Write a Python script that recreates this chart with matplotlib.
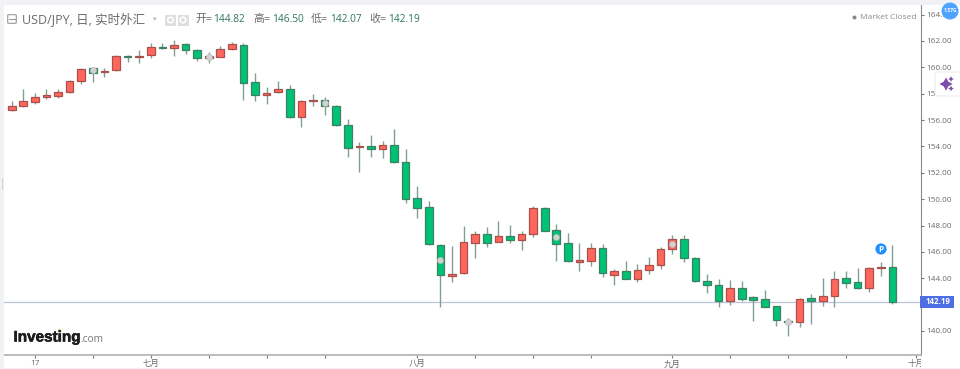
#!/usr/bin/env python3
"""USD/JPY daily candles, investing.com look."""
import matplotlib
matplotlib.use("Agg")
import matplotlib.pyplot as plt
import matplotlib.patheffects as pe
from matplotlib.patches import Circle, FancyBboxPatch, Rectangle
from matplotlib.transforms import Bbox

plt.rcParams["font.family"] = ["Open Sans", "Noto Sans CJK SC", "DejaVu Sans"]

opens = [156.79, 157.07, 157.40, 157.78, 157.85, 158.15, 158.99, 159.95, 159.62, 159.77,
         160.86, 160.79, 160.91, 161.54, 161.49, 161.80, 161.32, 160.71, 160.81, 161.37,
         161.72, 158.89, 157.93, 158.15, 158.38, 156.21, 157.42, 157.50, 157.09, 155.60,
         153.93, 154.01, 153.83, 154.08, 152.82, 150.06, 149.43, 146.55, 144.20, 144.40,
         146.70, 147.33, 146.75, 147.23, 146.88, 147.38, 149.33, 147.68, 146.67, 145.26,
         145.28, 146.32, 144.25, 144.57, 143.97, 144.60, 145.00, 146.19, 146.95, 145.54,
         143.77, 143.49, 142.25, 143.23, 142.55, 142.43, 141.87, 140.76, 140.66, 142.48,
         142.30, 142.63, 143.99, 143.69, 143.26, 144.78, 144.82]
highs = [157.42, 158.36, 158.03, 158.33, 158.33, 159.04, 159.92, 159.98, 159.92, 160.91,
         160.91, 161.32, 161.87, 161.82, 162.08, 161.82, 161.42, 161.19, 161.59, 161.90,
         161.82, 159.55, 158.48, 158.96, 158.69, 157.50, 157.95, 157.73, 157.14, 156.08,
         154.36, 154.84, 154.44, 155.30, 153.78, 151.00, 149.86, 146.60, 146.45, 147.96,
         147.56, 147.86, 148.32, 148.01, 147.61, 149.48, 149.38, 148.11, 147.41, 146.70,
         146.65, 146.57, 144.68, 145.28, 145.08, 145.61, 146.34, 147.28, 147.26, 145.59,
         144.32, 143.97, 143.84, 143.79, 142.63, 143.11, 141.92, 140.96, 142.50, 142.78,
         144.02, 144.58, 144.54, 144.75, 144.88, 145.26, 146.50]
lows = [156.66, 156.97, 157.24, 157.62, 157.67, 158.03, 158.76, 158.91, 159.24, 159.72,
        160.38, 160.35, 160.73, 161.37, 160.86, 161.01, 160.46, 160.33, 160.76, 161.32,
        157.52, 157.45, 157.24, 158.08, 156.16, 155.47, 157.07, 156.36, 155.55, 153.20,
        152.04, 153.22, 153.10, 152.77, 149.68, 148.57, 146.50, 141.79, 143.69, 144.35,
        145.51, 146.35, 146.72, 146.70, 146.14, 147.10, 147.56, 145.28, 145.23, 144.55,
        144.95, 144.12, 143.51, 143.97, 143.74, 144.32, 144.73, 145.84, 145.21, 143.74,
        142.91, 141.84, 141.99, 142.27, 140.76, 141.79, 140.35, 139.62, 140.33, 140.53,
        141.92, 141.82, 143.23, 143.18, 142.96, 144.20, 142.07]
closes = [157.07, 157.42, 157.75, 157.93, 158.15, 158.96, 159.87, 159.60, 159.75, 160.89,
          160.79, 160.86, 161.52, 161.49, 161.72, 161.32, 160.73, 160.89, 161.37, 161.75,
          158.84, 157.93, 158.03, 158.38, 156.21, 157.45, 157.52, 157.07, 155.60, 153.91,
          154.01, 153.78, 154.08, 152.82, 149.99, 149.35, 146.57, 144.22, 144.35, 146.72,
          147.33, 146.65, 147.23, 146.88, 147.33, 149.30, 147.61, 146.60, 145.28, 145.36,
          146.32, 144.37, 144.57, 143.97, 144.63, 145.03, 146.19, 146.95, 145.51, 143.77,
          143.49, 142.30, 143.23, 142.45, 142.35, 141.82, 140.81, 140.66, 142.43, 142.30,
          142.65, 143.94, 143.64, 143.23, 144.80, 144.85, 142.19]
# candles carrying the small grey event dot
dot_days = [7, 17, 27, 37, 47, 57, 67]

y_ticks = [140, 142, 144, 146, 148, 150, 152, 154, 156, 158, 160, 162, 164]
x_ticks = [2, 7, 12, 17, 22, 27, 35, 40, 45, 50, 57, 62, 67, 72, 78]
x_names = {2: "17", 12: "七月", 35: "八月", 57: "九月", 78: "十月"}
last_price = 142.19

UP, DOWN = "#ff675c", "#00c274"
UP_EDGE, DOWN_EDGE = "#a9504c", "#3f8065"
WICK = "#7f9f90"
GREY = "#6b6b6b"
VALUE = "#2b7560"

W, H = 960, 369
fig = plt.figure(figsize=(W / 100, H / 100), dpi=100, facecolor="white")
ax = fig.add_axes([4 / W, 1 - 354.5 / H, (920.5 - 4) / W, (354.5 - 5) / H])

days = list(range(len(closes)))
ax.vlines(days, lows, highs, color=WICK, linewidth=1.0, zorder=2)
for d, o, c in zip(days, opens, closes):
    up = c >= o
    ax.bar(d, abs(c - o), bottom=min(o, c), width=0.66, color=UP if up else DOWN,
           edgecolor=UP_EDGE if up else DOWN_EDGE, linewidth=0.9, zorder=3)
ax.scatter(dot_days, [(opens[d] + closes[d]) / 2 for d in dot_days], s=20, color="#d2d2d2",
           edgecolor="#b5b5b5", linewidth=0.4, zorder=4)
ax.axhline(last_price, color="#bcc4dc", linewidth=0.9, zorder=1)

ax.set_xlim(-0.665, 78.43)
ax.set_ylim(162 - (354.5 - 41) / 13.18, 162 + 36 / 13.18)
ax.yaxis.tick_right()
ax.set_yticks(y_ticks)
# 142.00 sits behind the last price label
ax.set_yticklabels(["" if v == 142 else "%.2f" % v for v in y_ticks])
ax.set_xticks(x_ticks)
ax.set_xticklabels([x_names.get(t, "") for t in x_ticks])
ax.tick_params(axis="y", length=2, width=0.8, color="#777777", labelcolor=GREY, labelsize=5.9, pad=2)
ax.tick_params(axis="x", length=2, width=0.8, color="#777777", labelcolor=GREY, labelsize=6, pad=2.2)
for side in ["top", "left"]:
    ax.spines[side].set_visible(False)
ax.spines["right"].set_color("#8a8a8a")
ax.spines["bottom"].set_color("#b0b0b0")
ax.spines["bottom"].set_linewidth(1.2)

# the last month label is cut off at the price axis
clip = Bbox([[0, 0], [920.5, H]])
for lab in ax.get_xticklabels():
    lab.set_clip_box(clip)
    lab.set_clip_on(True)

# overlay in pixel coordinates for the page furniture
ov = fig.add_axes([0, 0, 1, 1], zorder=10)
ov.set_xlim(0, W)
ov.set_ylim(H, 0)
ov.axis("off")
ov.patch.set_alpha(0)

for x, y, w, h in [(0, 0, 4, H), (0, 0, W, 4.5), (0, 367.5, W, 1.5)]:
    ov.add_patch(Rectangle((x, y), w, h, color="#f0f2f6", linewidth=0))
ov.add_patch(Rectangle((1.5, 178), 1.6, 12, color="#cfcfcf", linewidth=0))

# header
ov.add_patch(FancyBboxPatch((8.5, 15.5), 7, 7, boxstyle="round,pad=0.8", fc="none", ec="#9a9a9a", lw=0.8))
ov.plot([8.5, 15.5], [19, 19], color="#9a9a9a", lw=0.8)
ov.text(22, 19.5, "USD/JPY, 日, 实时外汇", fontsize=9, color=GREY, va="center", ha="left")
ov.text(155, 19.5, "▾", fontsize=5, color="#b5b5b5", va="center", ha="center", family="DejaVu Sans")
for x in [170.5, 183]:
    ov.add_patch(Rectangle((x - 5.5, 14.5), 11, 11, color="#dedede", linewidth=0))
    ov.add_patch(Circle((x, 20), 2.8, fc="none", ec="white", lw=1.2))
for x, name, xv, val in [(195, "开=", 213, "144.82"), (253, "高=", 272, "146.50"),
                         (311, "低=", 330, "142.07"), (369, "收=", 388, "142.19")]:
    ov.text(x, 19.5, name, fontsize=7.8, color=GREY, va="center", ha="left")
    ov.text(xv, 19.5, val, fontsize=7.3, color=VALUE, va="center", ha="left")

# market status
ov.add_patch(Circle((854.5, 17.5), 2, color="#888888", linewidth=0))
ov.text(859.5, 17.5, "Market Closed", fontsize=6.05, color="#8a8a8a", va="center", ha="left")

# last price label
ov.add_patch(Rectangle((920, 296), 34, 11.5, color="#4c6fe3", linewidth=0))
ov.text(938, 301.8, "142.19", fontsize=5.7, color="white", va="center", ha="center", fontweight="bold")

# P marker
ov.add_patch(Circle((881, 249), 5.6, color="#1e90ff", linewidth=0))
ov.text(881, 249, "P", fontsize=5.8, color="white", va="center", ha="center", fontweight="bold")

# badge and sparkle button
ov.add_patch(Circle((950, 11), 8.5, color="#4da3ff", linewidth=0))
ov.text(950, 11, "1.37G", fontsize=3.6, color="white", va="center", ha="center", fontweight="bold")
ov.add_patch(FancyBboxPatch((938, 75), 30, 18, boxstyle="round,pad=3", fc="white", ec="#ececec", lw=0.8))
ov.scatter([946, 951, 951], [84, 79, 88.5], marker=(4, 1, 0), s=[90, 16, 16], color="#7d4fa8", linewidths=0)

# logo
logo = ov.text(13.5, 337.5, "Investing", fontsize=11, color="#1c1c1c", va="center", ha="left",
               fontweight="bold", family="Liberation Sans")
logo.set_path_effects([pe.withStroke(linewidth=0.4, foreground="#1c1c1c")])
ov.text(80, 339, ".com", fontsize=7.3, color="#777777", va="center", ha="left")
ov.add_patch(Circle((59.5, 330.5), 1.3, color="#f5a623", linewidth=0))

fig.savefig("out.png", dpi=100)
